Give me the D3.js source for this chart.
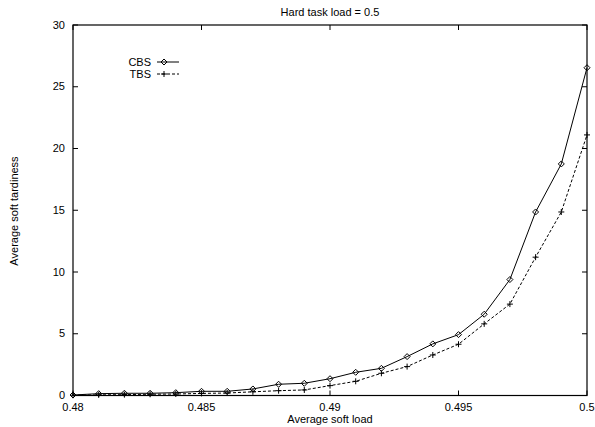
<!DOCTYPE html>
<html><head><meta charset="utf-8">
<script src="https://cdn.jsdelivr.net/npm/d3@7"></script>
<style>body{margin:0;background:#fff}svg{display:block}text{font-family:"Liberation Sans",Arial,sans-serif;fill:#000}</style>
</head><body>
<script>
const loads = [0.480,0.481,0.482,0.483,0.484,0.485,0.486,0.487,0.488,0.489,0.490,0.491,0.492,0.493,0.494,0.495,0.496,0.497,0.498,0.499,0.500];
const cbs = [0.04,0.15,0.18,0.18,0.23,0.34,0.34,0.53,0.91,0.99,1.36,1.88,2.2,3.15,4.18,4.93,6.58,9.39,14.86,18.75,26.54];
const tbs = [0.02,0.05,0.07,0.1,0.12,0.17,0.2,0.3,0.39,0.45,0.8,1.15,1.8,2.34,3.28,4.15,5.8,7.4,11.2,14.86,21.1];
const xTicks = [0.48,0.485,0.49,0.495,0.5];
const yTicks = [0,5,10,15,20,25,30];
const xTickLabels = ["0.48","0.485","0.49","0.495","0.5"];
const title = "Hard task load = 0.5";
const xTitle = "Average soft load";
const yTitle = "Average soft tardiness";

const W=595,H=427, L=73, R=587, T=25, B=395.5;
const svg=d3.select("body").append("svg").attr("width",W).attr("height",H);
const x=d3.scaleLinear().domain([0.48,0.5]).range([L,R]);
const y=d3.scaleLinear().domain([0,30]).range([B,T]);

// ticks inward on all sides
const tk=5;
const g=svg.append("g").attr("stroke","#000").attr("stroke-width",1);
xTicks.forEach(v=>{
  g.append("line").attr("x1",x(v)).attr("x2",x(v)).attr("y1",B).attr("y2",B-tk);
  g.append("line").attr("x1",x(v)).attr("x2",x(v)).attr("y1",T).attr("y2",T+tk);
});
yTicks.forEach(v=>{
  g.append("line").attr("x1",L).attr("x2",L+tk).attr("y1",y(v)).attr("y2",y(v));
  g.append("line").attr("x1",R).attr("x2",R-tk).attr("y1",y(v)).attr("y2",y(v));
});
svg.append("rect").attr("x",L).attr("y",T).attr("width",R-L).attr("height",B-T)
  .attr("fill","none").attr("stroke","#000").attr("stroke-width",1.2);

xTicks.forEach((v,i)=>svg.append("text").attr("x",x(v)).attr("y",B+15.5).attr("text-anchor","middle")
  .attr("font-size",11).text(xTickLabels[i]));
yTicks.forEach(v=>svg.append("text").attr("x",L-8).attr("y",y(v)+3.5).attr("text-anchor","end")
  .attr("font-size",11).text(v));

svg.append("text").attr("x",330).attr("y",16).attr("text-anchor","middle").attr("font-size",11).text(title);
svg.append("text").attr("x",330).attr("y",423).attr("text-anchor","middle").attr("font-size",11).text(xTitle);
svg.append("text").attr("transform","translate(18,211) rotate(-90)").attr("text-anchor","middle").attr("font-size",11).text(yTitle);

const line=d3.line().x((d,i)=>x(loads[i])).y(d=>y(d));
svg.append("path").datum(cbs).attr("d",line).attr("fill","none").attr("stroke","#000").attr("stroke-width",1);
svg.append("path").datum(tbs).attr("d",line).attr("fill","none").attr("stroke","#000").attr("stroke-width",1).attr("stroke-dasharray","3,2");

const ds=3;
function diamond(sel,cx,cy){sel.append("path").attr("d",`M${cx},${cy-ds}L${cx+ds},${cy}L${cx},${cy+ds}L${cx-ds},${cy}Z`)
  .attr("fill","none").attr("stroke","#000").attr("stroke-width",1);}
function plus(sel,cx,cy){sel.append("path").attr("d",`M${cx-ds},${cy}H${cx+ds}M${cx},${cy-ds}V${cy+ds}`)
  .attr("stroke","#000").attr("stroke-width",1);}
const mk=svg.append("g");
cbs.forEach((d,i)=>diamond(mk,x(loads[i]),y(d)));
tbs.forEach((d,i)=>plus(mk,x(loads[i]),y(d)));

// legend
const leg=svg.append("g");
leg.append("text").attr("x",151).attr("y",66).attr("text-anchor","end").attr("font-size",11).text("CBS");
leg.append("text").attr("x",151).attr("y",78).attr("text-anchor","end").attr("font-size",11).text("TBS");
leg.append("line").attr("x1",157).attr("x2",179).attr("y1",62).attr("y2",62).attr("stroke","#000");
diamond(leg,164,62);
leg.append("line").attr("x1",157).attr("x2",179).attr("y1",74).attr("y2",74).attr("stroke","#000").attr("stroke-dasharray","3,2");
plus(leg,164,74);
</script>
</body></html>
